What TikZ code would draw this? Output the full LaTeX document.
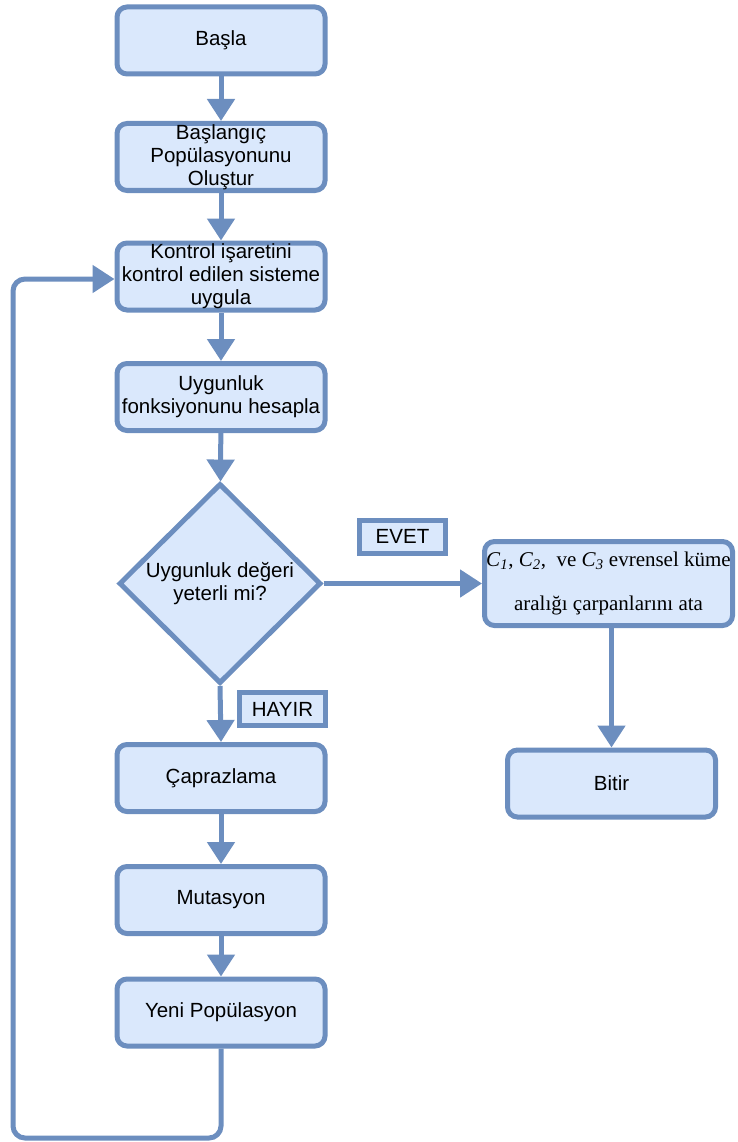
\documentclass[tikz,border=0pt]{standalone}
\usepackage{fontspec}
\setmainfont{Liberation Sans}
\newfontfamily\serifface{Liberation Serif}
\usetikzlibrary{shapes.geometric,arrows.meta}
\definecolor{bstroke}{HTML}{6C8EBF}
\definecolor{bfill}{HTML}{DAE8FC}
\tikzset{
  box/.style={rectangle, rounded corners=10pt, draw=bstroke, fill=bfill, line width=5pt,
    minimum width=208pt, minimum height=67pt, inner sep=0pt, align=center,
    font=\fontsize{20.5pt}{23pt}\selectfont},
  tag/.style={rectangle, draw=bstroke, fill=bfill, line width=5pt, inner sep=0pt,
    minimum width=86pt, minimum height=33pt, font=\fontsize{20.5pt}{23pt}\selectfont},
  dec/.style={diamond, draw=bstroke, fill=bfill, line width=5pt, inner sep=0pt,
    minimum width=202pt, minimum height=200pt, align=center,
    font=\fontsize{20.5pt}{23pt}\selectfont},
  arr/.style={draw=bstroke, line width=5pt, -{Triangle[length=22pt,width=27pt]}}
}
\begin{document}
\begin{tikzpicture}[x=1pt,y=-1pt]
\useasboundingbox (0,0) rectangle (737,1142);
\node[box] (b1) at (221,40.5) {Başla};
\node[box] (b2) at (221,157) {Başlangıç\\Popülasyonunu\\Oluştur};
\node[box] (b3) at (221,276.5) {Kontrol işaretini\\kontrol edilen sisteme\\uygula};
\node[box] (b4) at (221,397) {Uygunluk\\fonksiyonunu hesapla};
\node[dec] (d) at (220,583.5) {Uygunluk değeri\\yeterli mi?};
\node[tag] (evet) at (402.5,536.5) {EVET};
\node[tag] (hayir) at (282.5,709) {HAYIR};
\node[box, minimum width=248pt, minimum height=84pt,
      font=\serifface\fontsize{21pt}{44pt}\selectfont] (c) at (608.5,583.5)
  {\textit{C}\textsubscript{\textit{1}}, \textit{C}\textsubscript{\textit{2}},\ \ ve \textit{C}\textsubscript{\textit{3}} evrensel küme\\aralığı çarpanlarını ata};
\node[box] (bitir) at (611.5,783.5) {Bitir};
\node[box] (cap) at (221,778) {Çaprazlama};
\node[box] (mut) at (221,900) {Mutasyon};
\node[box] (yeni) at (221,1012.5) {Yeni Popülasyon};
\coordinate (lb) at (13,1138);
\coordinate (lt) at (13,279);
\draw[arr] (b1) -- (b2);
\draw[arr] (b2) -- (b3);
\draw[arr] (b3) -- (b4);
\draw[arr] (b4) -- (d);
\draw[arr] (d.east) -- (c.west);
\draw[arr] (bitir.north |- c.south) -- (bitir.north);
\draw[arr] (d.south) -- (cap.north);
\draw[arr] (cap) -- (mut);
\draw[arr] (mut) -- (yeni);
\draw[arr, rounded corners=12pt] (yeni.south) |- (lb) -- (lt) -- (b3.west |- lt);
\end{tikzpicture}
\end{document}
